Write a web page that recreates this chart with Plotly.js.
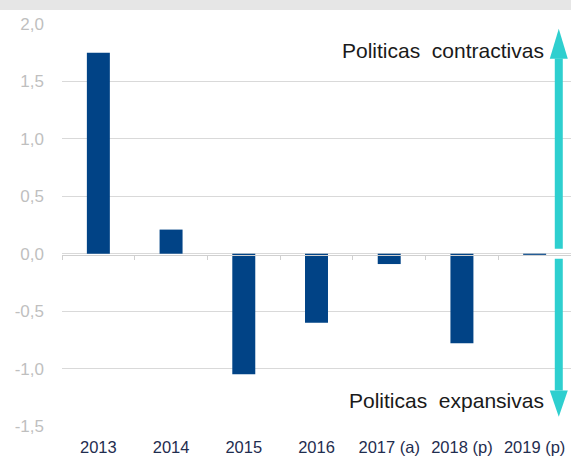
<!DOCTYPE html>
<html>
<head>
<meta charset="utf-8">
<script src="https://cdn.plot.ly/plotly-3.0.1.min.js"></script>
<style>html,body{margin:0;padding:0;background:#fff;}#chart{width:571px;height:458px;}</style>
</head>
<body>
<div id="chart"></div>
<script>
const categories = ["2013", "2014", "2015", "2016", "2017 (a)", "2018 (p)", "2019 (p)"];
const values = [1.75, 0.21, -1.05, -0.60, -0.09, -0.78, -0.01];
const yTickValues = [-1.5, -1.0, -0.5, 0.0, 0.5, 1.0, 1.5, 2.0];
const yTickLabels = ["-1,5", "-1,0", "-0,5", "0,0", "0,5", "1,0", "1,5", "2,0"];
const upperLabel = "Politicas&nbsp; contractivas";
const lowerLabel = "Politicas&nbsp; expansivas";

const teal = "#2ECFCF";
const ax = 0.976, hw = 0.0177;

const traces = [
  {type: "bar", x: categories, y: values, marker: {color: "#014386"}, hoverinfo: "skip", xaxis: "x", yaxis: "y"},
  {type: "bar", x: categories, y: values, marker: {color: "rgba(0,0,0,0)"}, hoverinfo: "skip", xaxis: "x2", yaxis: "y", showlegend: false}
];

const layout = {
  width: 571, height: 458,
  margin: {l: 62, r: 0, t: 24, b: 32},
  paper_bgcolor: "#ffffff", plot_bgcolor: "#ffffff",
  showlegend: false,
  bargap: 0.684,
  font: {family: "Liberation Sans, Arial, sans-serif"},
  xaxis: {
    type: "category", showgrid: false, zeroline: false, showline: false, ticks: "",
    tickfont: {size: 16.5, color: "#1F2D4F"}, ticklabelstandoff: 9
  },
  xaxis2: {
    type: "category", overlaying: "x", anchor: "free", position: 0.4254, side: "bottom",
    showgrid: false, zeroline: false, showline: true, linecolor: "#D0D0D0", linewidth: 1,
    ticks: "outside", tickson: "boundaries", ticklen: 4, tickcolor: "#D0D0D0", showticklabels: false
  },
  yaxis: {
    range: [-1.5, 2.0], tickvals: yTickValues, ticktext: yTickLabels,
    showgrid: true, gridcolor: "#D9D9D9", gridwidth: 1, zeroline: false, showline: false, ticks: "",
    tickfont: {size: 17, color: "#BFBFBF"}, ticklabelstandoff: 17
  },
  shapes: [
    {type: "rect", xref: "paper", yref: "paper", x0: -0.2, x1: 1.01, y0: 1.0348, y1: 1.07, fillcolor: "#E6E6E6", line: {width: 0}, layer: "below"},
    {type: "line", xref: "paper", yref: "y", x0: ax, x1: ax, y0: 0.044, y1: 1.70, line: {color: teal, width: 8}},
    {type: "path", xref: "paper", yref: "y", path: `M ${ax-hw} 1.697 L ${ax+hw} 1.697 L ${ax} 1.958 Z`, fillcolor: teal, line: {width: 0}},
    {type: "line", xref: "paper", yref: "y", x0: ax, x1: ax, y0: -0.044, y1: -1.19, line: {color: teal, width: 8}},
    {type: "path", xref: "paper", yref: "y", path: `M ${ax-hw} -1.19 L ${ax+hw} -1.19 L ${ax} -1.42 Z`, fillcolor: teal, line: {width: 0}}
  ],
  annotations: [
    {xref: "paper", yref: "y", x: 0.951, y: 1.77, text: upperLabel, showarrow: false, xanchor: "right", yanchor: "middle", font: {size: 21, color: "#1a1a1a"}},
    {xref: "paper", yref: "y", x: 0.951, y: -1.28, text: lowerLabel, showarrow: false, xanchor: "right", yanchor: "middle", font: {size: 21, color: "#1a1a1a"}}
  ]
};

Plotly.newPlot("chart", traces, layout, {displayModeBar: false, staticPlot: true});
</script>
</body>
</html>
